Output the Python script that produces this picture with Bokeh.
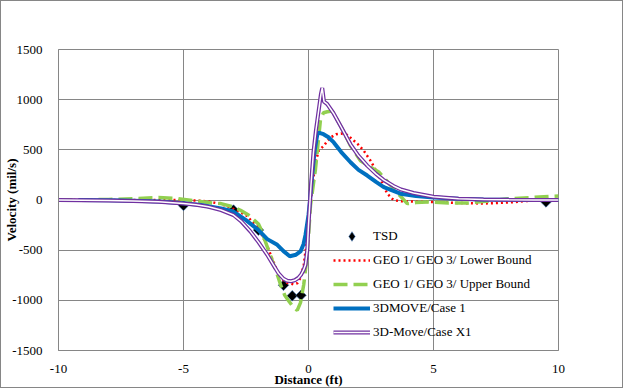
from bokeh.plotting import figure
from bokeh.models import FixedTicker, Legend, LegendItem, Range1d
from bokeh.embed import file_html
from bokeh.resources import INLINE

# ---- data ----
tsd_x = [-5, -3, -2, -1, -0.65, -0.3, 9.5]
tsd_y = [-55, -100, -300, -850, -955, -950, -20]

lower_x = [-10, -8, -6, -5, -4.5, -4.0, -3.5, -3.0, -2.5, -2.0, -1.65, -1.25, -1.0, -0.85,
           -0.6, -0.45, -0.32, -0.19, -0.05, 0.05, 0.15, 0.28, 0.41, 0.61, 0.75, 0.9, 1.1,
           1.3, 1.55, 1.75, 2.0, 2.21, 2.48, 2.81, 3.15, 3.4, 3.7, 4.0, 5.0, 6.0, 7.0, 8.0,
           9.0, 9.5, 10.0]
lower_y = [0, 0, 0, 0, -5, -15, -40, -90, -150, -280, -460, -710, -800, -825,
           -840, -830, -776, -645, -381, -120, 130, 376, 492, 540, 586, 625, 655,
           662, 649, 606, 550, 491, 392, 244, 63, 0, -12, -15, -20, -30, -35, -25,
           -5, 5, 10]

upper_x = [-10, -8, -7, -6, -5.25, -4.5, -4.0, -3.5, -3.0, -2.72, -2.4, -2.0, -1.92, -1.6,
           -1.25, -1.12, -0.95, -0.79, -0.6, -0.45, -0.32, -0.19, -0.05, 0.08, 0.28, 0.48,
           0.6, 0.75, 0.95, 1.3, 1.68, 2.08, 2.4, 2.81, 3.35, 3.95, 4.3, 4.75, 5.6, 6.4,
           7.2, 8.08, 8.88, 9.75, 10.0]
upper_y = [0, 5, 14, 24, 14, -10, -26, -36, -70, -102, -150, -240, -282, -500,
           -743, -842, -950, -1006, -1072, -1100, -1023, -842, -546, -52, 310, 804,
           870, 880, 886, 730, 540, 392, 340, 280, 129, -36, -25, -19, -29, -29,
           -10, 14, 24, 37, 40]

case1_x = [-9.2, -8, -7, -6, -5, -4.3, -3.5, -3.0, -2.5, -2.0, -1.65, -1.25, -1.0, -0.75,
           -0.5, -0.32, -0.2, -0.12, 0.0, 0.05, 0.15, 0.25, 0.35, 0.42, 0.5, 0.6, 0.8,
           1.01, 1.3, 1.68, 2.0, 2.35, 2.7, 3.01, 3.68, 4.3, 5.0, 6.0, 7.0, 8.0, 9.0, 10.0]
case1_y = [0, -3, -8, -15, -32, -50, -85, -115, -200, -300, -390, -447, -510, -560,
           -545, -513, -440, -348, -150, -30, 250, 500, 650, 672, 665, 656, 625,
           574, 480, 376, 300, 244, 180, 129, 63, 40, 25, 12, 5, 2, 0, 0]

x1_x = [-10, -9, -8, -7, -6, -5, -4.5, -4, -3.5, -3, -2.7, -2.32, -2, -1.65, -1.4, -1.2,
        -1.0, -0.85, -0.7, -0.55, -0.4, -0.3, -0.2, -0.12, -0.05, 0.0, 0.1, 0.2, 0.3, 0.4,
        0.5, 0.55, 0.62, 0.7, 0.75, 1.0, 1.3, 1.68, 2.0, 2.35, 2.7, 3.0, 3.4, 3.7, 4.2,
        5.0, 6.0, 7.0, 8.0, 9.0, 10.0]
x1_y = [0, -2, -5, -10, -18, -35, -48, -68, -100, -150, -210, -315, -420, -546, -650, -730,
        -785, -805, -810, -800, -775, -745, -700, -645, -500, -250, 150, 480, 700, 880,
        1060, 1117, 980, 965, 955, 865, 730, 555, 440, 343, 260, 200, 140, 105, 70,
        32, 12, 5, 2, 0, 0]

x_ticks = [-10, -5, 0, 5, 10]
x_tick_labels = ["-10", "-5", "0", "5", "10"]
y_ticks = [-1500, -1000, -500, 0, 500, 1000, 1500]
y_tick_labels = ["-1500", "-1000", "-500", "0", "500", "1000", "1500"]

labels = ["TSD", "GEO 1/ GEO 3/ Lower Bound", "GEO 1/ GEO 3/ Upper Bound",
          "3DMOVE/Case 1", "3D-Move/Case X1"]

# ---- figure ----
FONT = "Liberation Serif"
GRID = "#868686"

p = figure(width=623, height=388, output_backend="svg", toolbar_location=None,
           x_range=Range1d(-10, 10), y_range=Range1d(-1500, 1500),
           min_border_left=57, min_border_right=66, min_border_top=48,
           min_border_bottom=36)
p.styles = {"border": "1px solid #868686"}
p.outline_line_color = GRID
p.background_fill_color = "white"
p.border_fill_color = "white"

p.xaxis.ticker = FixedTicker(ticks=x_ticks)
p.yaxis.ticker = FixedTicker(ticks=y_ticks)
p.xaxis.major_label_overrides = dict(zip(x_ticks, x_tick_labels))
p.yaxis.major_label_overrides = dict(zip(y_ticks, y_tick_labels))
p.xaxis.axis_label = "Distance (ft)"
p.yaxis.axis_label = "Velocity (mil/s)"

for ax in (p.xaxis[0], p.yaxis[0]):
    ax.axis_line_color = GRID
    ax.major_tick_line_color = None
    ax.minor_tick_line_color = None
    ax.major_label_text_font = FONT
    ax.major_label_text_font_size = "13px"
    ax.major_label_text_color = "black"
    ax.axis_label_text_font = FONT
    ax.axis_label_text_font_size = "13px"
    ax.axis_label_text_font_style = "bold"
    ax.axis_label_text_color = "black"
p.xaxis.major_label_standoff = 8
p.xaxis.axis_label_standoff = -4
p.yaxis.major_label_standoff = 10
p.yaxis.axis_label_standoff = -10

for g in (p.xgrid[0], p.ygrid[0]):
    g.grid_line_color = GRID
    g.grid_line_width = 1

# TSD: a diamond glyph (used for the legend) covered by a square turned 45 degrees
r_tsd = p.scatter(tsd_x, tsd_y, marker="diamond", size=10,
                  fill_color="black", line_color="#4F81BD", line_width=0.6)
p.scatter(tsd_x, tsd_y, marker="square", angle=0.785398, size=7.5,
          fill_color="black", line_color="#4F81BD", line_width=0.6)
r_low = p.line(lower_x, lower_y, line_color="#FF0000", line_width=2.5, line_dash="2 3")
r_up = p.line(upper_x, upper_y, line_color="#92D050", line_width=3.5, line_dash="14 6")
r_c1 = p.line(case1_x, case1_y, line_color="#0070C0", line_width=4)
r_x1a = p.line(x1_x, x1_y, line_color="#7030A0", line_width=4)
r_x1b = p.line(x1_x, x1_y, line_color="white", line_width=1.5)

legend = Legend(items=[
    LegendItem(label=labels[0], renderers=[r_tsd]),
    LegendItem(label=labels[1], renderers=[r_low]),
    LegendItem(label=labels[2], renderers=[r_up]),
    LegendItem(label=labels[3], renderers=[r_c1]),
    LegendItem(label=labels[4], renderers=[r_x1a, r_x1b]),
], location=(275, 6))
legend.background_fill_alpha = 0
legend.border_line_color = None
legend.padding = 0
legend.margin = 0
legend.spacing = 0
legend.label_height = 24
legend.glyph_height = 24
legend.glyph_width = 37
legend.label_standoff = 3
legend.label_text_font = FONT
legend.label_text_font_size = "13px"
legend.label_text_color = "black"
p.add_layout(legend)

open("out.html", "w").write(file_html(p, INLINE))
